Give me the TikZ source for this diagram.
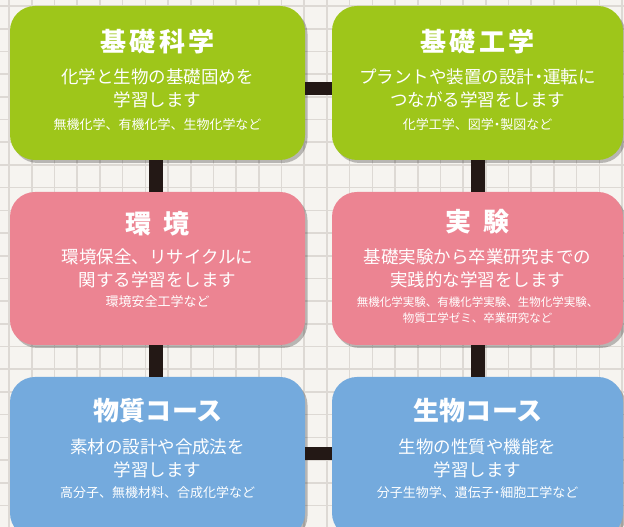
\documentclass[tikz,border=0pt]{standalone}
\usepackage{fontspec}
\setmainfont{Noto Sans CJK JP}
\usepackage{tikz}
\usepackage{xcolor}
\usetikzlibrary{positioning, shadows}
\definecolor{leafgreen}{RGB}{158,198,26}
\definecolor{rosepink}{RGB}{236,132,146}
\definecolor{skyblue}{RGB}{116,170,221}
\definecolor{inkblack}{RGB}{35,24,21}
\definecolor{paper}{RGB}{246,244,240}
\definecolor{gridgray}{RGB}{221,217,212}
\newcommand{\nakaguro}{\kern-0.25em・\kern-0.25em}

\begin{document}
\begin{tikzpicture}[
  x=1pt, y=1pt,
  gridline/.style={gridgray, line width=1.6pt, step=22.7},
  course/.style={rounded corners=25pt, minimum width=295pt, minimum height=154pt, inner sep=0pt,
    drop shadow={shadow xshift=2.5pt, shadow yshift=-3pt, opacity=0.25, fill=black}},
  title/.style={text=white, inner sep=0pt, font=\fontsize{26}{30}\selectfont\bfseries\addfontfeature{LetterSpace=12,RawFeature=+palt}},
  kanatitle/.style={title, font=\fontsize{26}{30}\selectfont\bfseries\addfontfeature{LetterSpace=3,RawFeature=+palt}},
  body/.style={text=white, inner sep=0pt, align=center, font=\fontsize{17.5}{23}\selectfont},
  note/.style={text=white, inner sep=0pt, align=center, font=\fontsize{13}{16}\selectfont},
  link/.style={draw=inkblack, line width=14pt}
]
  \useasboundingbox (0,0) rectangle (624,527);
  \clip (0,0) rectangle (624,527);

  % Paper grid
  \fill[paper] (0,0) rectangle (624,527);
  \begin{scope}[shift={(9.1,21.5)}]
    \draw[gridline] (-22.7,-22.7) grid (640,530);
  \end{scope}

  % Boxes
  \node[course, fill=leafgreen] (kiso) at (157.5,444) {};
  \node[course, fill=leafgreen, minimum width=291pt] (kougaku) at (477.5,444) {};
  \node[course, fill=rosepink, minimum height=153pt] (kankyo) at (157.5,258.5) {};
  \node[course, fill=rosepink, minimum width=291pt, minimum height=153pt] (jikken) at (477.5,258.5) {};
  \node[course, fill=skyblue, minimum height=161pt] (busshitsu) at (157.5,69.5) {};
  \node[course, fill=skyblue, minimum width=291pt, minimum height=161pt] (seibutsu) at (477.5,69.5) {};

  % Texts: kiso
  \node[title, below=46pt of kiso.north, anchor=base] (kiso-t) {基礎科学};
  \node[body, below=54.5pt of kiso-t.base, anchor=base] (kiso-b) {化学と生物の基礎固めを\\学習します};
  \node[note, below=23.5pt of kiso-b.base, anchor=base] (kiso-n) {無機化学、有機化学、生物化学など};

  % Texts: kougaku
  \node[title, below=46pt of kougaku.north, anchor=base] (kougaku-t) {基礎工学};
  \node[body, below=54.5pt of kougaku-t.base, anchor=base] (kougaku-b) {プラントや装置の設計\nakaguro 運転に\\つながる学習をします};
  \node[note, below=23.5pt of kougaku-b.base, anchor=base] (kougaku-n) {化学工学、図学\nakaguro 製図など};

  % Texts: kankyo
  \node[title, below=42pt of kankyo.north, anchor=base] (kankyo-t) {環\hspace{0.45em}境};
  \node[body, below=52.5pt of kankyo-t.base, anchor=base] (kankyo-b) {環境保全、リサイクルに\\関する学習をします};
  \node[note, below=20.5pt of kankyo-b.base, anchor=base] (kankyo-n) {環境安全工学など};

  % Texts: jikken
  \node[title, below=40pt of jikken.north, anchor=base] (jikken-t) {実\hspace{0.45em}験};
  \node[body, below=54.5pt of jikken-t.base, anchor=base] (jikken-b) {基礎実験から卒業研究までの\\実践的な学習をします};
  \node[note, font=\fontsize{11.5}{16}\selectfont, below=36.5pt of jikken-b.base, anchor=base] (jikken-n) {無機化学実験、有機化学実験、生物化学実験、\\物質工学ゼミ、卒業研究など};

  % Texts: busshitsu
  \node[kanatitle, below=44pt of busshitsu.north, anchor=base] (busshitsu-t) {物質コース};
  \node[body, below=55.5pt of busshitsu-t.base, anchor=base] (busshitsu-b) {素材の設計や合成法を\\学習します};
  \node[note, below=21.5pt of busshitsu-b.base, anchor=base] (busshitsu-n) {高分子、無機材料、合成化学など};

  % Texts: seibutsu
  \node[kanatitle, below=44pt of seibutsu.north, anchor=base] (seibutsu-t) {生物コース};
  \node[body, below=55.5pt of seibutsu-t.base, anchor=base] (seibutsu-b) {生物の性質や機能を\\学習します};
  \node[note, below=21.5pt of seibutsu-b.base, anchor=base] (seibutsu-n) {分子生物学、遺伝子\nakaguro 細胞工学など};

  % Links
  \draw[link, line width=13pt] ([yshift=-5.5pt]kiso.east) -- ([yshift=-5.5pt]kougaku.west);
  \draw[link] ([xshift=-2pt]kiso.south) -- ([xshift=-2pt]kankyo.north);
  \draw[link] (kougaku.south) -- (jikken.north);
  \draw[link] ([xshift=-2pt]kankyo.south) -- ([xshift=-2pt]busshitsu.north);
  \draw[link] (jikken.south) -- (seibutsu.north);
  \draw[link, line width=13pt] ([yshift=4pt]busshitsu.east) -- ([yshift=4pt]seibutsu.west);
\end{tikzpicture}
\end{document}
